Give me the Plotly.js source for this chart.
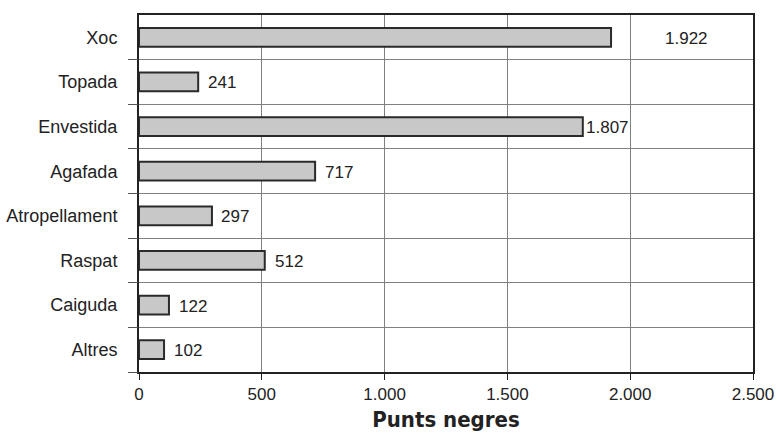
<!DOCTYPE html>
<html><head><meta charset="utf-8">
<script src="https://cdn.plot.ly/plotly-3.0.1.min.js"></script>
<style>body{margin:0;background:#fff}#c{width:778px;height:437px}</style>
</head><body><div id="c"></div>
<script>
const categories = ["Xoc","Topada","Envestida","Agafada","Atropellament","Raspat","Caiguda","Altres"];
const values = [1922, 241, 1807, 717, 297, 512, 122, 102];
const xTicks = [0, 500, 1000, 1500, 2000, 2500];
const xTitle = "Punts negres";
// label offsets (px) from bar end, per category (style only)
const labelShift = [52, 8, 1, 8, 7, 8, 8, 8];

const cats = categories.slice().reverse();
const vals = values.slice().reverse();
const dividers = cats.slice(1).map((_, i) => i + 0.5);

const fontFam = "Liberation Sans, Arial, sans-serif";
const fmt = v => v.toLocaleString("de-DE");
const trace = {
  type: "bar", orientation: "h",
  x: vals, y: cats,
  width: 0.42,
  marker: {color: "#c8c8c8", line: {color: "#2a2a2a", width: 2}},
  hoverinfo: "none"
};
const dummy = {type: "scatter", x: [0], y: [0], yaxis: "y2", mode: "markers", marker: {opacity: 0}, hoverinfo: "none", showlegend: false};

const annotations = categories.map((c, i) => ({
  x: values[i], y: c, xref: "x", yref: "y",
  text: fmt(values[i]), showarrow: false,
  xanchor: "left", yanchor: "middle", xshift: labelShift[i], yshift: -1,
  font: {family: fontFam, size: 17, color: "#222"}
}));

const layout = {
  width: 778, height: 437,
  margin: {l: 139, r: 25, t: 15, b: 65},
  separators: ",.",
  showlegend: false,
  paper_bgcolor: "#fff", plot_bgcolor: "#fff",
  font: {family: fontFam, size: 17, color: "#222"},
  annotations: annotations,
  xaxis: {
    range: [0, 2500], tickvals: xTicks, tickformat: ",d",
    ticklabeloverflow: "allow",
    showgrid: true, gridcolor: "#808080", gridwidth: 1,
    showline: true, linecolor: "#222", linewidth: 2, mirror: true,
    ticks: "outside", ticklen: 6, tickcolor: "#222", tickwidth: 1,
    zeroline: false, fixedrange: true,
    tickfont: {family: fontFam, size: 17, color: "#222"},
    title: {text: xTitle, standoff: 8, font: {family: "Liberation Sans Narrow, DejaVu Sans Condensed, Arial Narrow, sans-serif", size: 22, color: "#222", weight: "bold"}}
  },
  yaxis: {
    type: "category", categoryorder: "array", categoryarray: cats,
    range: [-0.5, cats.length - 0.5],
    showgrid: false, ticks: "", ticklabelstandoff: 16,
    showline: true, linecolor: "#222", linewidth: 2, mirror: true,
    zeroline: false, fixedrange: true,
    tickfont: {family: fontFam, size: 18, color: "#222"}
  },
  yaxis2: {
    overlaying: "y", side: "left",
    range: [-0.5, cats.length - 0.5],
    tickvals: dividers.concat([-0.5]), showticklabels: false,
    showgrid: true, gridcolor: "#808080", gridwidth: 1,
    ticks: "outside", ticklen: 10, tickcolor: "#555", tickwidth: 1,
    zeroline: false, fixedrange: true
  }
};
Plotly.newPlot("c", [trace, dummy], layout, {staticPlot: true, displayModeBar: false});
</script></body></html>
